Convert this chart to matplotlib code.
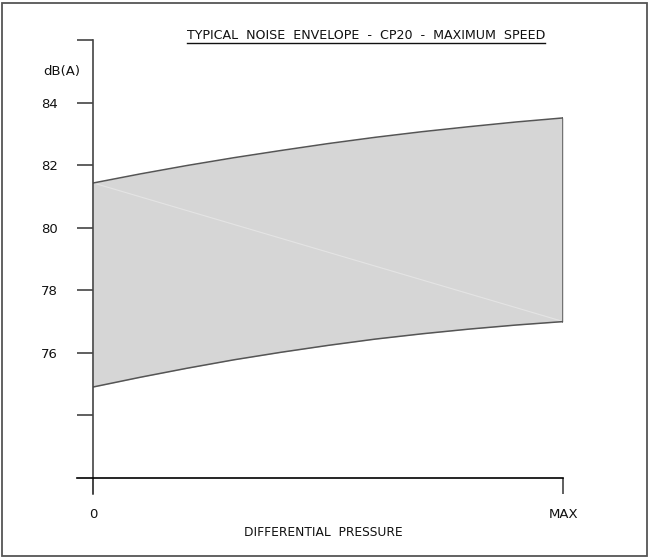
import matplotlib.pyplot as plt
from matplotlib.lines import Line2D
from matplotlib.patches import Rectangle

# Differential pressure as fraction of max, and noise envelope bounds in dB(A)
pressure = [0.0, 0.1, 0.2, 0.3, 0.4, 0.5, 0.6, 0.7, 0.8, 0.9, 1.0]
noise_upper = [81.43, 81.72, 81.99, 82.24, 82.47, 82.69, 82.89, 83.07, 83.23, 83.38, 83.51]
noise_lower = [74.91, 75.22, 75.51, 75.78, 76.02, 76.24, 76.44, 76.61, 76.76, 76.89, 77.00]

y_ticks = [74, 76, 78, 80, 82, 84, 86]
y_tick_labels = ['', '76', '78', '80', '82', '84', '']
x_ticks = [0, 1]
x_tick_labels = ['0', 'MAX']

title = 'TYPICAL  NOISE  ENVELOPE  -  CP20  -  MAXIMUM  SPEED'

plt.rcParams['font.family'] = ['Liberation Sans Narrow', 'DejaVu Sans Condensed', 'DejaVu Sans']

W, H = 649, 557
fig = plt.figure(figsize=(W / 100, H / 100), dpi=100)

# frame around the whole drawing
fig.add_artist(Rectangle((2 / W, 1.5 / H), 645 / W, 553 / H, transform=fig.transFigure,
                         fill=False, edgecolor='#555555', linewidth=1.3))

ax = fig.add_axes([93.3 / W, 79 / H, 470 / W, 438 / H])
ax.set_xlim(0, 1)
ax.set_ylim(72, 86)
ax.patch.set_visible(False)

ax.fill_between(pressure, noise_lower, noise_upper, color='#d6d6d6', linewidth=0, zorder=1)
ax.plot(pressure, noise_upper, color='#555555', linewidth=1.1, zorder=2)
ax.plot(pressure, noise_lower, color='#555555', linewidth=1.1, zorder=2)
ax.plot([pressure[-1], pressure[-1]], [noise_lower[-1], noise_upper[-1]], color='#555555', linewidth=1.1, zorder=2)
# faint seam of the filled polygon
ax.plot([pressure[0], pressure[-1]], [noise_upper[0], noise_lower[-1]], color='white', linewidth=0.8, alpha=0.35, zorder=1.5)

tick_len_px = 16
for s in ['top', 'right']:
    ax.spines[s].set_visible(False)
ax.spines['left'].set_bounds(72 - tick_len_px * 14 / 438, 86)
ax.spines['left'].set_color('#444444')
ax.spines['left'].set_linewidth(1.2)
ax.spines['bottom'].set_bounds(-tick_len_px / 470, 1)
ax.spines['bottom'].set_color('black')
ax.spines['bottom'].set_linewidth(1.2)

ax.set_yticks(y_ticks)
ax.set_yticklabels(y_tick_labels)
ax.set_xticks(x_ticks)
ax.set_xticklabels(x_tick_labels)
ax.tick_params(axis='both', direction='out', length=tick_len_px * 0.72, width=1.2,
               color='#444444', labelsize=9.5, labelcolor='#111111')
ax.tick_params(axis='y', pad=14)
ax.tick_params(axis='x', pad=10)

fig.text(62 / W, 1 - 72 / H, 'dB(A)', ha='center', va='center', fontsize=9.5, color='#111111')
fig.text(323 / W, 1 - 533 / H, 'DIFFERENTIAL  PRESSURE', ha='center', va='center', fontsize=8.8, color='#111111')
t = fig.text(366 / W, 1 - 35.5 / H, title, ha='center', va='center', fontsize=9.1, color='#111111')

# underline the title
fig.canvas.draw()
bb = t.get_window_extent().transformed(fig.transFigure.inverted())
fig.add_artist(Line2D([bb.x0, bb.x1], [1 - 42.7 / H] * 2, transform=fig.transFigure,
                      color='#111111', linewidth=1.0))

fig.savefig('out.png', dpi=100)
